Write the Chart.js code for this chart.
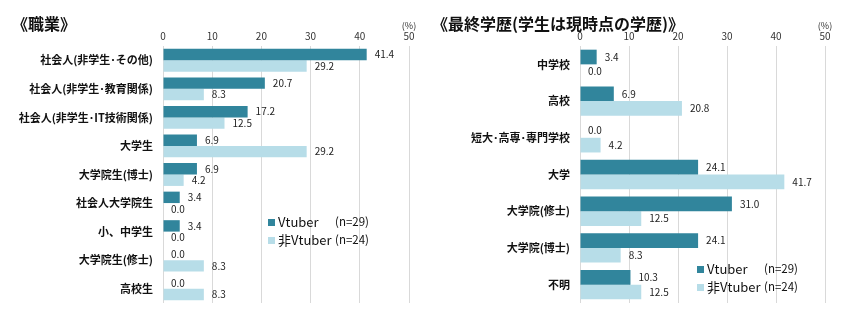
<!DOCTYPE html>
<html lang="ja">
<head>
<meta charset="utf-8">
<title>職業・最終学歴</title>
<script src="https://cdn.jsdelivr.net/npm/chart.js@4.4.1/dist/chart.umd.min.js"></script>
<style>
  html, body { margin: 0; padding: 0; background: #fff; }
  body { width: 850px; height: 329px; position: relative; overflow: hidden;
         font-family: "Noto Sans CJK JP", "Noto Sans", sans-serif; }
  .panel { position: absolute; top: 0; width: 425px; height: 329px; }
  .title { position: absolute; top: 13px; font-size: 16px; font-weight: bold; color: #111;
           white-space: nowrap; line-height: 20px; }
</style>
</head>
<body>
<div class="panel" style="left:0"><canvas id="jobChart" width="425" height="329"></canvas></div>
<div class="panel" style="left:425px"><canvas id="eduChart" width="425" height="329"></canvas></div>
<div class="title" style="left:12px">《職業》</div>
<div class="title" style="left:432px">《最終学歴(学生は現時点の学歴)》</div>

<script>
// data
const seriesNames = ['Vtuber', '非Vtuber'];
const seriesN = ['(n=29)', '(n=24)'];
const tickValues = [0, 10, 20, 30, 40, 50];

const jobCats = ['社会人(非学生･その他)', '社会人(非学生･教育関係)', '社会人(非学生･IT技術関係)',
    '大学生', '大学院生(博士)', '社会人大学院生', '小、中学生', '大学院生(修士)', '高校生'];
const jobVtuber = [41.4, 20.7, 17.2, 6.9, 6.9, 3.4, 3.4, 0.0, 0.0];
const jobNonVtuber = [29.2, 8.3, 12.5, 29.2, 4.2, 0.0, 0.0, 8.3, 8.3];

const eduCats = ['中学校', '高校', '短大･高専･専門学校', '大学', '大学院(修士)', '大学院(博士)', '不明'];
const eduVtuber = [3.4, 6.9, 0.0, 24.1, 31.0, 24.1, 10.3];
const eduNonVtuber = [0.0, 20.8, 4.2, 41.7, 12.5, 8.3, 12.5];

const DARK = '#31859c';
const LIGHT = '#b7dde8';
const FONT = '"Noto Sans CJK JP", "Noto Sans", sans-serif';

// value labels at the end of each bar + (%) unit + legend
const extrasPlugin = {
    id: 'extras',
    afterDatasetsDraw(chart, args, opts) {
        const { ctx, chartArea } = chart;
        ctx.save();
        ctx.font = '10px ' + FONT;
        ctx.fillStyle = '#222';
        ctx.textAlign = 'left';
        ctx.textBaseline = 'middle';
        chart.data.datasets.forEach((ds, i) => {
            const meta = chart.getDatasetMeta(i);
            meta.data.forEach((bar, j) => {
                ctx.fillText(ds.data[j].toFixed(1), bar.x + 8, bar.y);
            });
        });

        // unit
        ctx.font = '9px ' + FONT;
        ctx.textAlign = 'center';
        ctx.fillStyle = '#333';
        ctx.fillText('(%)', chartArea.right, 26);

        // legend
        const lx = opts.x, ly = opts.y;
        [DARK, LIGHT].forEach((c, i) => {
            const y = ly + i * 18;
            ctx.fillStyle = c;
            ctx.fillRect(lx, y - 3, 7, 7);
            ctx.fillStyle = '#111';
            ctx.textAlign = 'left';
            ctx.font = '13px ' + FONT;
            ctx.fillText(seriesNames[i], lx + 10, y);
            ctx.font = '11.5px ' + FONT;
            ctx.fillText(seriesN[i], lx + 67, y);
        });
        ctx.restore();
    }
};

function makeChart(id, cats, vt, nvt, yWidth, padRight, legendPos) {
    const el = document.getElementById(id);
    return new Chart(el.getContext('2d'), {
        type: 'bar',
        data: {
            labels: cats,
            datasets: [
                { label: seriesNames[0], data: vt, backgroundColor: DARK },
                { label: seriesNames[1], data: nvt, backgroundColor: LIGHT }
            ]
        },
        options: {
            indexAxis: 'y',
            responsive: false,
            animation: false,
            categoryPercentage: 0.8,
            barPercentage: 1.0,
            layout: { padding: { top: 0, right: padRight, bottom: 26, left: 0 } },
            plugins: {
                legend: { display: false },
                tooltip: { enabled: false },
                extras: legendPos
            },
            scales: {
                x: {
                    position: 'top',
                    min: tickValues[0],
                    max: tickValues[tickValues.length - 1],
                    afterBuildTicks: (s) => { s.ticks = tickValues.map(v => ({ value: v })); },
                    afterFit: (s) => { s.height = 46; },
                    grid: { color: '#d9d9d9', drawTicks: false },
                    border: { display: false },
                    ticks: { color: '#333', padding: 4, font: { size: 10, family: FONT } }
                },
                y: {
                    afterFit: (s) => { s.width = yWidth; },
                    grid: { display: false, drawTicks: false },
                    border: { display: false },
                    ticks: { color: '#111', padding: 10, autoSkip: false,
                             font: { size: 11, weight: 'bold', family: FONT } }
                }
            }
        },
        plugins: [extrasPlugin]
    });
}

makeChart('jobChart', jobCats, jobVtuber, jobNonVtuber, 163, 16, { x: 268, y: 222 });
makeChart('eduChart', eduCats, eduVtuber, eduNonVtuber, 155, 25, { x: 272, y: 269 });
</script>
</body>
</html>
